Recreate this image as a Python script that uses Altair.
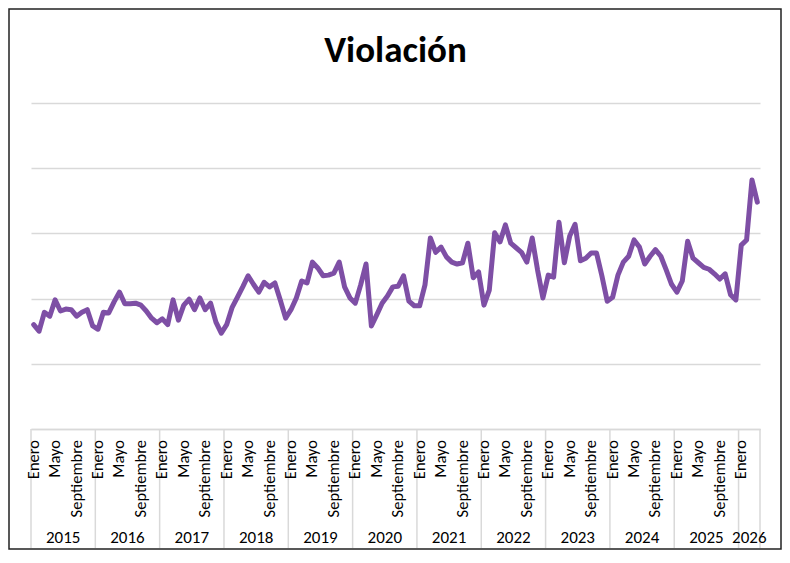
import altair as alt
import pandas as pd

# Monthly values (arbitrary units; gridlines every 100)
v2015 = [160, 150, 179, 173, 198, 181, 184, 183, 173, 179, 183, 158]
v2016 = [153, 179, 178, 195, 210, 192, 192, 193, 190, 181, 170, 163]
v2017 = [169, 160, 198, 167, 190, 199, 183, 201, 183, 193, 164, 147]
v2018 = [160, 186, 202, 218, 235, 222, 210, 225, 218, 224, 198, 170]
v2019 = [183, 201, 227, 224, 256, 247, 235, 236, 239, 256, 218, 201]
v2020 = [193, 221, 253, 158, 175, 193, 204, 218, 219, 235, 196, 189]
v2021 = [189, 221, 293, 271, 279, 264, 256, 253, 255, 285, 232, 241]
v2022 = [190, 213, 301, 287, 313, 285, 278, 271, 256, 293, 244, 201]
v2023 = [236, 233, 317, 255, 296, 314, 258, 262, 270, 270, 235, 196]
v2024 = [202, 236, 256, 265, 290, 279, 253, 265, 275, 265, 244, 222]
v2025 = [210, 227, 288, 262, 255, 248, 245, 238, 230, 238, 206, 198]
v2026 = [282, 290, 382, 348]

years = [2015, 2016, 2017, 2018, 2019, 2020, 2021, 2022, 2023, 2024, 2025, 2026]
series = [v2015, v2016, v2017, v2018, v2019, v2020, v2021, v2022, v2023, v2024, v2025, v2026]
month_names = ["Enero", "", "", "", "Mayo", "", "", "", "Septiembre", "", "", ""]
y_ticks = [0, 100, 200, 300, 400, 500]

rows = []
idx = 0
for yr, vals in zip(years, series):
    for m, val in enumerate(vals):
        rows.append({"t": idx + 0.5, "v": val, "year": yr, "month": m})
        idx += 1
n_months = idx
df = pd.DataFrame(rows)

mdf = pd.DataFrame([{"t": r["t"], "lab": month_names[r["month"]]}
                    for r in rows if month_names[r["month"]] != ""])

year_rows = []
start = 0
for yr, vals in zip(years, series):
    year_rows.append({"year": str(yr), "mid": start + len(vals) / 2})
    start += len(vals)
ydf = pd.DataFrame(year_rows)

sep_vals = [0]
acc = 0
for vals in series:
    acc += len(vals)
    sep_vals.append(acc)
sdf = pd.DataFrame({"b": sep_vals})

W, H = 729, 326
FONT = "Carlito, Calibri, Lato"
GRID = "#d9d9d9"

xscale = alt.Scale(domain=[0, n_months], nice=False, zero=False)
yscale = alt.Scale(domain=[0, 500], nice=False)

line = alt.Chart(df).mark_line(
    color="#7E4FA5", strokeWidth=5, strokeCap="round", strokeJoin="round"
).encode(
    x=alt.X("t:Q", scale=xscale,
            axis=alt.Axis(labels=False, title=None, ticks=False, grid=False,
                          domainColor=GRID, domainWidth=1.5)),
    y=alt.Y("v:Q", scale=yscale,
            axis=alt.Axis(values=y_ticks, labels=False, ticks=False, domain=False,
                          title=None, grid=True, gridColor=GRID, gridWidth=1.5)),
)

seps = alt.Chart(sdf).mark_rule(color=GRID, strokeWidth=1.5).encode(
    x=alt.X("b:Q", scale=xscale),
    y=alt.value(H),
    y2=alt.value(H + 119),
)

mtext = alt.Chart(mdf).mark_text(
    font=FONT, fontSize=16.5, color="#000000", angle=270,
    align="right", baseline="middle"
).encode(
    x=alt.X("t:Q", scale=xscale),
    y=alt.value(H + 11),
    text="lab:N",
)

ytext = alt.Chart(ydf).mark_text(
    font=FONT, fontSize=17, color="#000000", baseline="middle", align="center"
).encode(
    x=alt.X("mid:Q", scale=xscale),
    y=alt.value(H + 109),
    text="year:N",
)

title = alt.Chart(pd.DataFrame({"t": ["Violación"]})).mark_text(
    font=FONT, fontSize=37, fontWeight="bold", color="#000000",
    align="center", baseline="alphabetic"
).encode(
    x=alt.value(W / 2), y=alt.value(-41), text="t:N"
)

border = alt.Chart(pd.DataFrame({"a": [0]})).mark_rect(
    fill=None, filled=False, stroke="#222222", strokeWidth=1.5
).encode(
    x=alt.value(-22), x2=alt.value(750), y=alt.value(-94), y2=alt.value(H + 120)
)

chart = alt.layer(seps, line, mtext, ytext, title, border).properties(
    width=W, height=H,
    autosize="none",
    padding={"left": 23, "top": 95, "right": 22, "bottom": 122},
).configure_view(stroke=None)

chart.save("out.html", embed_options={"renderer": "svg", "actions": False})
